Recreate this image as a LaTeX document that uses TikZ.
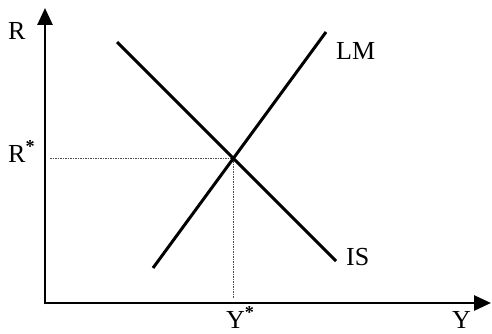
\documentclass[tikz,border=0pt]{standalone}
\usepackage{fontspec}
\setmainfont{Liberation Serif}
\usetikzlibrary{arrows.meta}
\begin{document}
\begin{tikzpicture}[x=1pt,y=-1pt,
  axis/.style={line width=2.8pt,-{Triangle[length=17pt,width=15pt]}},
  curve/.style={line width=3pt},
  guide/.style={line width=0.7pt,black!70,dash pattern=on 1.5pt off 1pt},
  lbl/.style={inner sep=0pt,anchor=base west,font=\fontsize{26}{30}\selectfont}]
\useasboundingbox (0,0) rectangle (492,334);
\coordinate (O) at (45,303);
\coordinate (ytop) at (45,8);
\coordinate (xend) at (491,303);
\draw[axis] (45,304.4) -- (ytop);
\draw[axis] (43.6,303) -- (xend);
\coordinate (IS1) at (117,42);
\coordinate (IS2) at (336,261);
\coordinate (LM1) at (153,268);
\coordinate (LM2) at (326,32);
\coordinate (E) at (233,158.5);
\coordinate (Rs) at (50,158.5);
\coordinate (Ys) at (233,298);
\draw[guide] (Rs) -- (E);
\draw[guide] (E) -- (Ys);
\draw[curve] (IS1) -- (IS2);
\draw[curve] (LM1) -- (LM2);
\node[lbl] (R) at (8,40) {R};
\node[lbl] (Rstar) at (8,162) {R\textsuperscript{\textbf{*}}};
\node[lbl] (Ystar) at (226,328) {Y\textsuperscript{\textbf{*}}};
\node[lbl] (Y) at (452,328) {Y};
\node[lbl] (LM) at (336,60) {LM};
\node[lbl] (IS) at (346,265) {IS};
\end{tikzpicture}
\end{document}
